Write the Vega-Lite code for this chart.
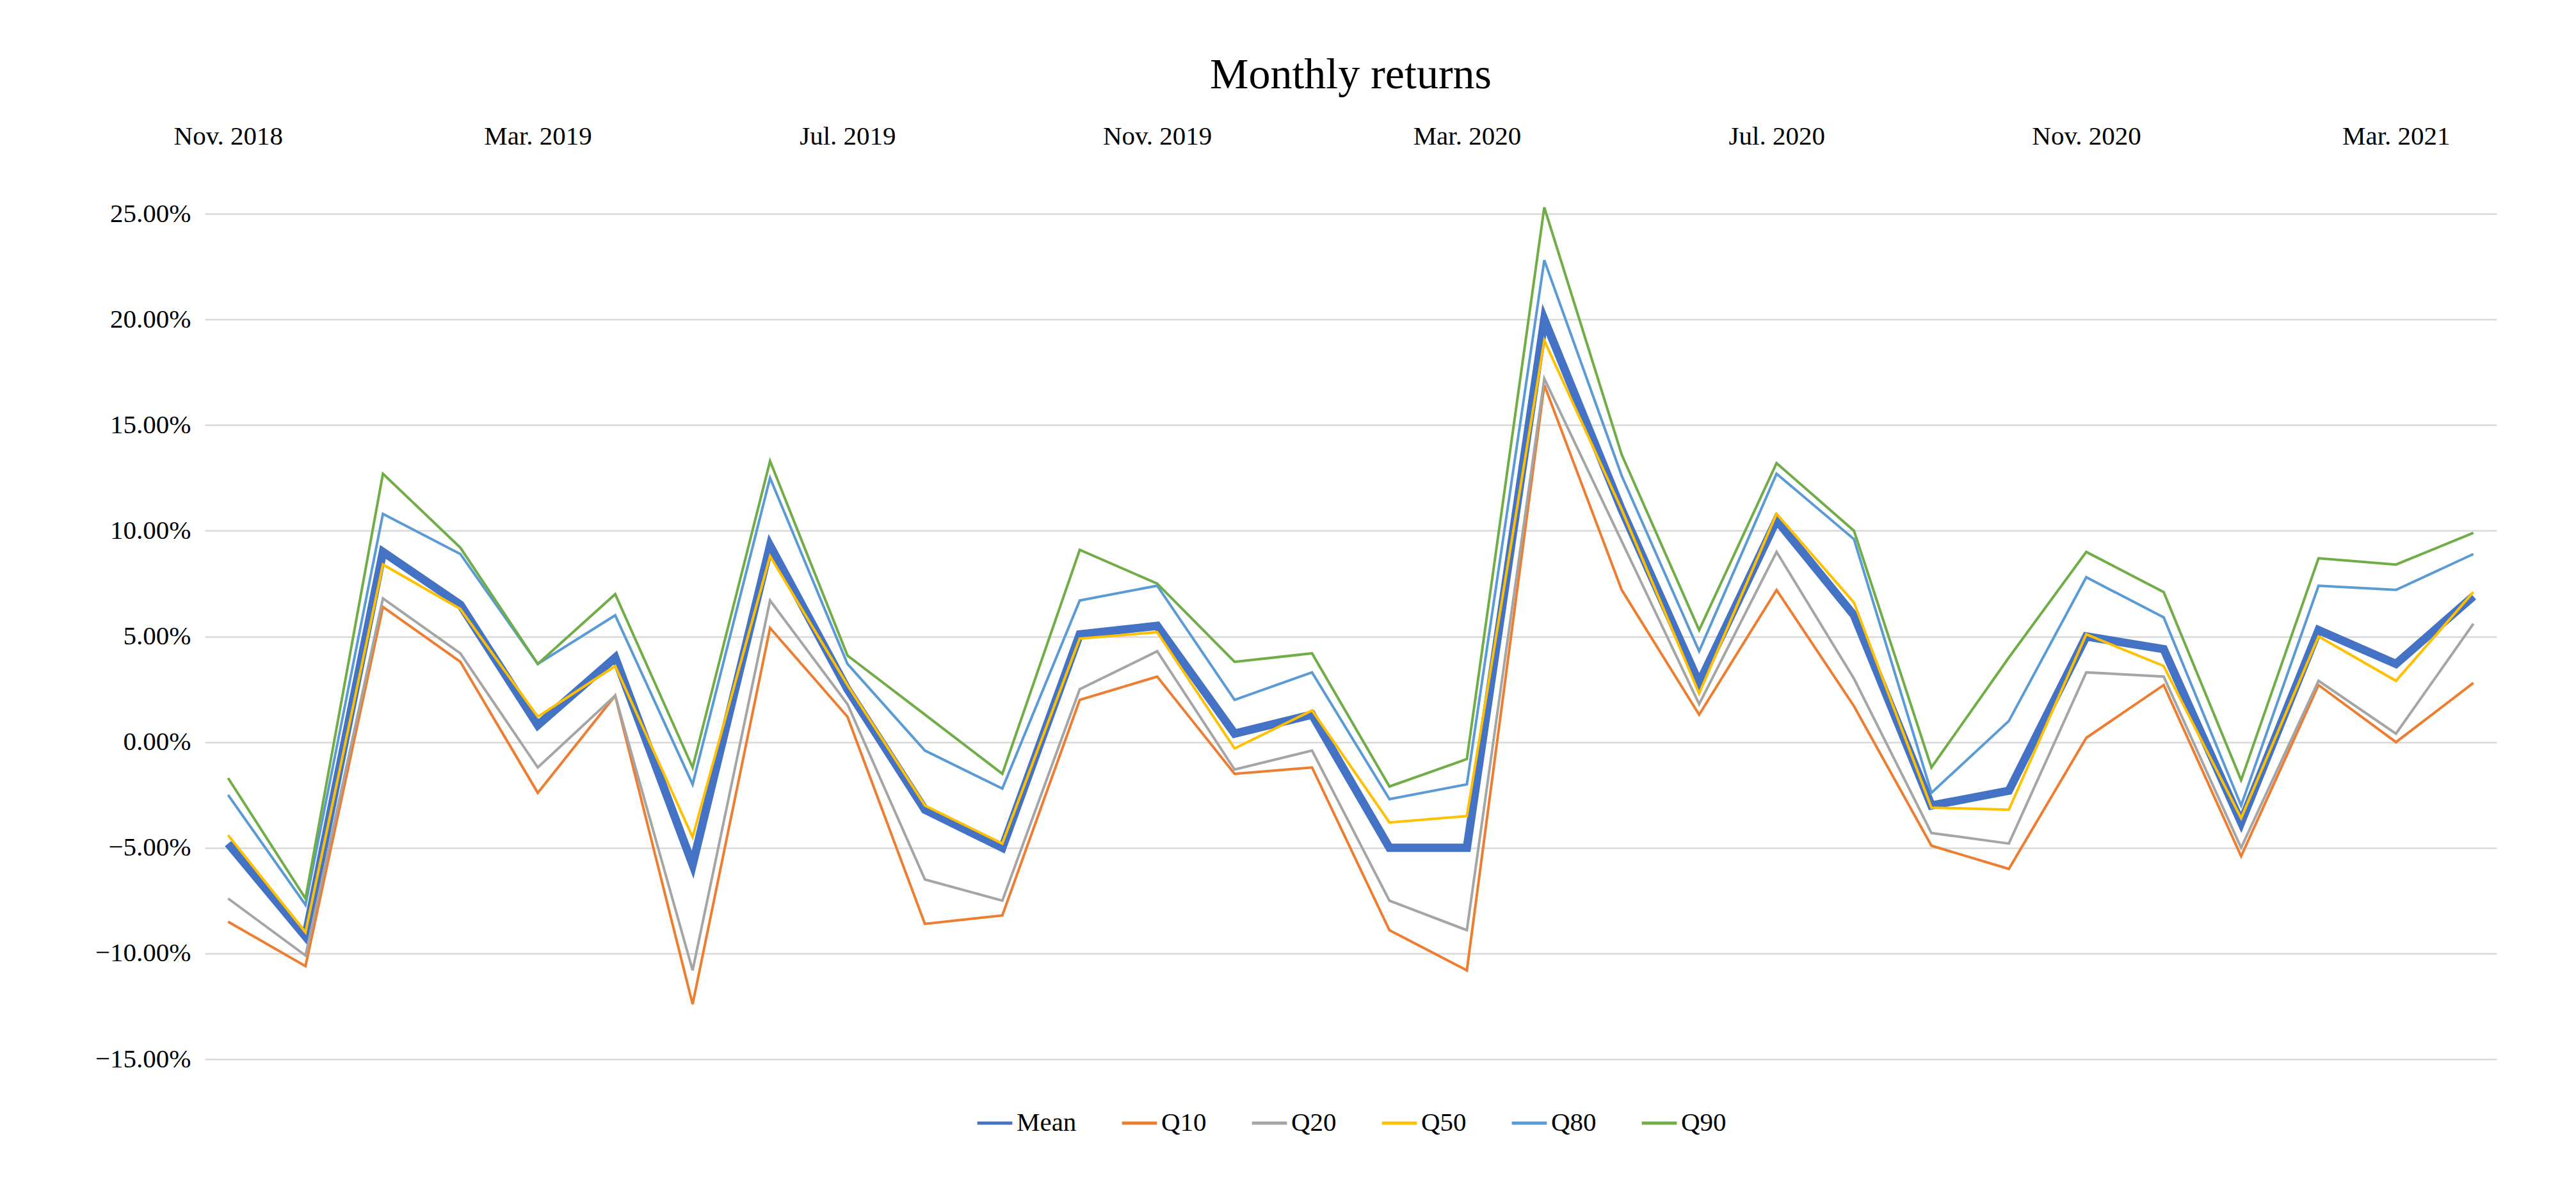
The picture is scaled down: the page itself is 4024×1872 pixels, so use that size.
{
  "$schema": "https://vega.github.io/schema/vega-lite/v6.json",
  "width": 3580,
  "height": 1321,
  "autosize": {"type": "none"},
  "padding": {"left": 320, "top": 334, "right": 124, "bottom": 217},
  "background": "white",
  "title": {"text": "Monthly returns", "font": "Liberation Serif", "fontSize": 68, "fontWeight": "normal", "color": "#000000", "offset": 40},
  "data": {
    "values": [
      {"m": "Nov. 2018", "Mean": -0.048, "Q10": -0.085, "Q20": -0.074, "Q50": -0.044, "Q80": -0.025, "Q90": -0.017},
      {"m": "Dec. 2018", "Mean": -0.092, "Q10": -0.106, "Q20": -0.101, "Q50": -0.090, "Q80": -0.077, "Q90": -0.074},
      {"m": "Jan. 2019", "Mean": 0.090, "Q10": 0.064, "Q20": 0.068, "Q50": 0.084, "Q80": 0.108, "Q90": 0.127},
      {"m": "Feb. 2019", "Mean": 0.065, "Q10": 0.038, "Q20": 0.042, "Q50": 0.063, "Q80": 0.089, "Q90": 0.092},
      {"m": "Mar. 2019", "Mean": 0.008, "Q10": -0.024, "Q20": -0.012, "Q50": 0.012, "Q80": 0.037, "Q90": 0.037},
      {"m": "Apr. 2019", "Mean": 0.040, "Q10": 0.022, "Q20": 0.022, "Q50": 0.036, "Q80": 0.060, "Q90": 0.070},
      {"m": "May. 2019", "Mean": -0.058, "Q10": -0.124, "Q20": -0.108, "Q50": -0.045, "Q80": -0.020, "Q90": -0.012},
      {"m": "Jun. 2019", "Mean": 0.093, "Q10": 0.054, "Q20": 0.067, "Q50": 0.088, "Q80": 0.125, "Q90": 0.133},
      {"m": "Jul. 2019", "Mean": 0.025, "Q10": 0.012, "Q20": 0.018, "Q50": 0.027, "Q80": 0.037, "Q90": 0.041},
      {"m": "Aug. 2019", "Mean": -0.032, "Q10": -0.086, "Q20": -0.065, "Q50": -0.030, "Q80": -0.004, "Q90": 0.013},
      {"m": "Sep. 2019", "Mean": -0.050, "Q10": -0.082, "Q20": -0.075, "Q50": -0.048, "Q80": -0.022, "Q90": -0.015},
      {"m": "Oct. 2019", "Mean": 0.051, "Q10": 0.020, "Q20": 0.025, "Q50": 0.049, "Q80": 0.067, "Q90": 0.091},
      {"m": "Nov. 2019", "Mean": 0.055, "Q10": 0.031, "Q20": 0.043, "Q50": 0.052, "Q80": 0.074, "Q90": 0.075},
      {"m": "Dec. 2019", "Mean": 0.004, "Q10": -0.015, "Q20": -0.013, "Q50": -0.003, "Q80": 0.020, "Q90": 0.038},
      {"m": "Jan. 2020", "Mean": 0.013, "Q10": -0.012, "Q20": -0.004, "Q50": 0.015, "Q80": 0.033, "Q90": 0.042},
      {"m": "Feb. 2020", "Mean": -0.050, "Q10": -0.089, "Q20": -0.075, "Q50": -0.038, "Q80": -0.027, "Q90": -0.021},
      {"m": "Mar. 2020", "Mean": -0.050, "Q10": -0.108, "Q20": -0.089, "Q50": -0.035, "Q80": -0.020, "Q90": -0.008},
      {"m": "Apr. 2020", "Mean": 0.200, "Q10": 0.169, "Q20": 0.172, "Q50": 0.190, "Q80": 0.228, "Q90": 0.253},
      {"m": "May. 2020", "Mean": 0.110, "Q10": 0.072, "Q20": 0.095, "Q50": 0.110, "Q80": 0.126, "Q90": 0.136},
      {"m": "Jun. 2020", "Mean": 0.028, "Q10": 0.013, "Q20": 0.018, "Q50": 0.023, "Q80": 0.043, "Q90": 0.053},
      {"m": "Jul. 2020", "Mean": 0.105, "Q10": 0.072, "Q20": 0.090, "Q50": 0.108, "Q80": 0.127, "Q90": 0.132},
      {"m": "Aug. 2020", "Mean": 0.060, "Q10": 0.017, "Q20": 0.030, "Q50": 0.066, "Q80": 0.096, "Q90": 0.100},
      {"m": "Sep. 2020", "Mean": -0.030, "Q10": -0.049, "Q20": -0.043, "Q50": -0.031, "Q80": -0.024, "Q90": -0.012},
      {"m": "Oct. 2020", "Mean": -0.023, "Q10": -0.060, "Q20": -0.048, "Q50": -0.032, "Q80": 0.010, "Q90": 0.040},
      {"m": "Nov. 2020", "Mean": 0.050, "Q10": 0.002, "Q20": 0.033, "Q50": 0.051, "Q80": 0.078, "Q90": 0.090},
      {"m": "Dec. 2020", "Mean": 0.044, "Q10": 0.027, "Q20": 0.031, "Q50": 0.036, "Q80": 0.059, "Q90": 0.071},
      {"m": "Jan. 2021", "Mean": -0.038, "Q10": -0.054, "Q20": -0.050, "Q50": -0.036, "Q80": -0.030, "Q90": -0.018},
      {"m": "Feb. 2021", "Mean": 0.053, "Q10": 0.027, "Q20": 0.029, "Q50": 0.050, "Q80": 0.074, "Q90": 0.087},
      {"m": "Mar. 2021", "Mean": 0.037, "Q10": 0.000, "Q20": 0.004, "Q50": 0.029, "Q80": 0.072, "Q90": 0.084},
      {"m": "Apr. 2021", "Mean": 0.069, "Q10": 0.028, "Q20": 0.056, "Q50": 0.071, "Q80": 0.089, "Q90": 0.099}
    ]
  },
  "transform": [
    {"fold": ["Mean", "Q10", "Q20", "Q50", "Q80", "Q90"], "as": ["series", "value"]}
  ],
  "mark": {"type": "line"},
  "encoding": {
    "x": {
      "field": "m",
      "type": "ordinal",
      "sort": null,
      "scale": {"type": "point", "padding": 0.3},
      "axis": {
        "orient": "top",
        "title": null,
        "values": ["Nov. 2018", "Mar. 2019", "Jul. 2019", "Nov. 2019", "Mar. 2020", "Jul. 2020", "Nov. 2020", "Mar. 2021"],
        "labelAngle": 0,
        "domain": false,
        "ticks": false,
        "grid": false,
        "labelPadding": 100
      }
    },
    "y": {
      "field": "value",
      "type": "quantitative",
      "scale": {"domain": [-0.15, 0.25], "nice": false},
      "axis": {
        "title": null,
        "format": ".2%",
        "values": [-0.15, -0.1, -0.05, 0, 0.05, 0.1, 0.15, 0.2, 0.25],
        "domain": false,
        "ticks": false,
        "labelPadding": 22,
        "gridColor": "#d9d9d9",
        "gridWidth": 2.5
      }
    },
    "color": {
      "field": "series",
      "type": "nominal",
      "scale": {
        "domain": ["Mean", "Q10", "Q20", "Q50", "Q80", "Q90"],
        "range": ["#4472C4", "#ED7D31", "#A5A5A5", "#FFC000", "#5B9BD5", "#70AD47"]
      },
      "legend": {
        "title": null,
        "orient": "bottom",
        "direction": "horizontal",
        "symbolType": "stroke",
        "symbolSize": 3000,
        "columnPadding": 60,
        "offset": 70
      }
    },
    "strokeWidth": {
      "condition": {"test": "datum.series === 'Mean'", "value": 13},
      "value": 4
    }
  },
  "config": {
    "view": {"stroke": null},
    "axis": {
      "labelFont": "Liberation Serif",
      "labelFontSize": 41,
      "labelColor": "#000000"
    },
    "legend": {
      "labelFont": "Liberation Serif",
      "labelFontSize": 41,
      "labelColor": "#000000",
      "symbolStrokeWidth": 5,
      "layout": {"bottom": {"anchor": "middle"}}
    }
  }
}
